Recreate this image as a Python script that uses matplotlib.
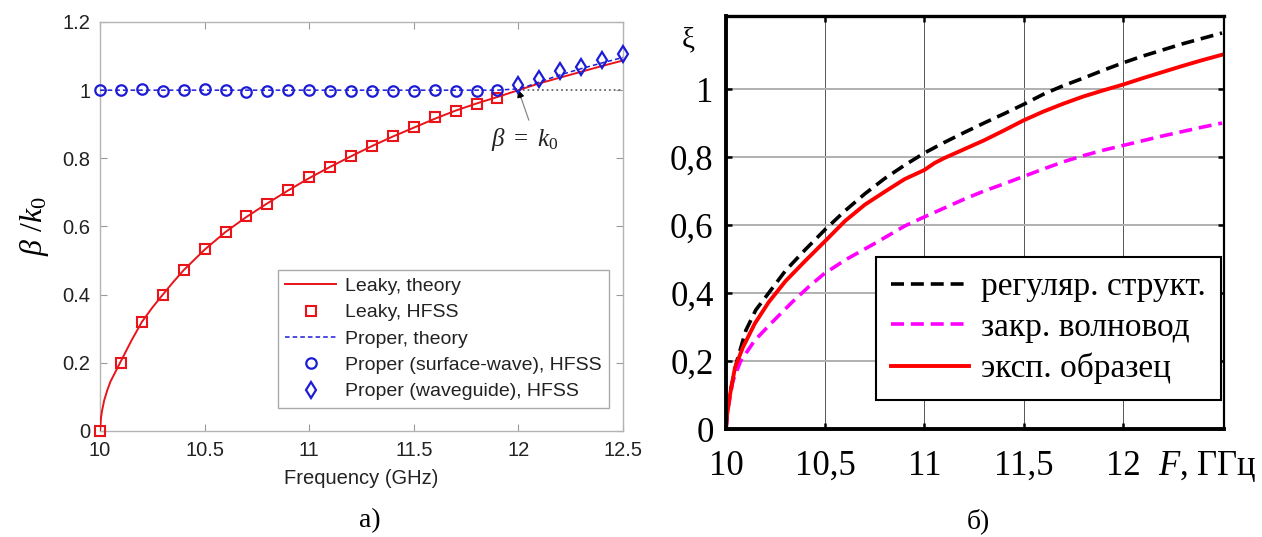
import matplotlib
matplotlib.use("Agg")
import matplotlib.pyplot as plt

plt.rcParams['mathtext.fontset'] = 'custom'
plt.rcParams['mathtext.rm'] = 'Liberation Serif'
plt.rcParams['mathtext.it'] = 'Liberation Serif:italic'

# ---------------- panel (a): dispersion, theory vs HFSS ----------------
f_leaky_hfss = [10.0, 10.1, 10.2, 10.3, 10.4, 10.5, 10.6, 10.7, 10.8, 10.9,
                11.0, 11.1, 11.2, 11.3, 11.4, 11.5, 11.6, 11.7, 11.8, 11.9]
b_leaky_hfss = [0.0, 0.20, 0.32, 0.40, 0.472, 0.535, 0.585, 0.63, 0.667, 0.708,
                0.744, 0.776, 0.808, 0.837, 0.866, 0.891, 0.92, 0.938, 0.959, 0.976]

f_leaky_th = [10.0, 10.005, 10.01, 10.02, 10.035, 10.05, 10.075, 10.1, 10.15, 10.2,
              10.25, 10.3, 10.35, 10.4, 10.5, 10.6, 10.7, 10.8, 10.9, 11.0,
              11.1, 11.2, 11.3, 11.4, 11.5, 11.6, 11.7, 11.8, 11.9, 12.0,
              12.1, 12.2, 12.3, 12.4, 12.5]
b_leaky_th = [0.0, 0.04, 0.06, 0.09, 0.12, 0.145, 0.175, 0.205, 0.265, 0.32,
              0.362, 0.40, 0.437, 0.472, 0.532, 0.584, 0.628, 0.668, 0.706, 0.742,
              0.775, 0.806, 0.836, 0.864, 0.89, 0.916, 0.94, 0.961, 0.98, 1.0,
              1.02, 1.037, 1.054, 1.071, 1.087]

f_proper_th = [10.0, 11.9, 12.0, 12.05, 12.1, 12.2, 12.3, 12.4, 12.5]
b_proper_th = [1.0, 1.0, 1.004, 1.013, 1.024, 1.045, 1.063, 1.08, 1.096]

f_surface = f_leaky_hfss
b_surface = [1.0, 1.0, 1.003, 0.997, 1.0, 1.003, 1.0, 0.995, 0.998, 1.0,
             1.0, 0.998, 0.998, 0.999, 0.998, 0.999, 1.0, 0.999, 0.999, 1.0]

f_waveguide = [12.0, 12.1, 12.2, 12.3, 12.4, 12.5]
b_waveguide = [1.016, 1.034, 1.057, 1.069, 1.089, 1.105]

f_light = [12.0, 12.5]
b_light = [1.0, 1.0]

xticks_a = [10, 10.5, 11, 11.5, 12, 12.5]
xlabels_a = ['10', '10.5', '11', '11.5', '12', '12.5']
yticks_a = [0, 0.2, 0.4, 0.6, 0.8, 1.0, 1.2]
ylabels_a = ['0', '0.2', '0.4', '0.6', '0.8', '1', '1.2']

# ---------------- panel (б): measured / computed curves ----------------
f_reg = [10.0, 10.01, 10.025, 10.055, 10.1, 10.15, 10.215, 10.3, 10.4, 10.5,
         10.6, 10.7, 10.8, 10.9, 11.0, 11.1, 11.2, 11.3, 11.4, 11.5,
         11.6, 11.7, 11.8, 11.9, 12.0, 12.1, 12.2, 12.3, 12.4, 12.5]
xi_reg = [0.0, 0.08, 0.12, 0.20, 0.29, 0.35, 0.40, 0.466, 0.528, 0.587,
          0.642, 0.692, 0.737, 0.776, 0.812, 0.843, 0.872, 0.9, 0.927, 0.955,
          0.985, 1.01, 1.032, 1.055, 1.077, 1.097, 1.115, 1.133, 1.149, 1.165]

f_closed = [10.0, 10.008, 10.034, 10.074, 10.144, 10.224, 10.333, 10.42, 10.493, 10.6,
            10.75, 10.9, 11.0, 11.1, 11.2, 11.3, 11.4, 11.5, 11.6, 11.7,
            11.8, 11.9, 12.0, 12.1, 12.2, 12.3, 12.4, 12.5]
xi_closed = [0.0, 0.053, 0.14, 0.20, 0.26, 0.309, 0.373, 0.42, 0.456, 0.497,
             0.546, 0.597, 0.624, 0.65, 0.676, 0.70, 0.721, 0.743, 0.765, 0.786,
             0.804, 0.82, 0.834, 0.848, 0.862, 0.875, 0.888, 0.90]

f_exp = [10.0, 10.005, 10.01, 10.02, 10.045, 10.085, 10.145, 10.215, 10.3, 10.335,
         10.4, 10.5, 10.6, 10.7, 10.8, 10.9, 11.0, 11.05, 11.1, 11.2,
         11.3, 11.4, 11.5, 11.6, 11.7, 11.8, 11.9, 12.0, 12.1, 12.2,
         12.3, 12.4, 12.5]
xi_exp = [0.0, 0.04, 0.06, 0.10, 0.18, 0.24, 0.31, 0.373, 0.435, 0.456,
          0.495, 0.553, 0.612, 0.66, 0.698, 0.735, 0.762, 0.782, 0.797, 0.823,
          0.849, 0.878, 0.908, 0.934, 0.957, 0.978, 0.996, 1.013, 1.032, 1.05,
          1.068, 1.085, 1.101]

xticks_b = [10, 10.5, 11, 11.5, 12]
xlabels_b = ['10', '10,5', '11', '11,5', '12']
yticks_b = [0, 0.2, 0.4, 0.6, 0.8, 1.0]
ylabels_b = ['0', '0,2', '0,4', '0,6', '0,8', '1']

names_b = ['регуляр. структ.', 'закр. волновод', 'эксп. образец']

W, H = 1262, 537
fig = plt.figure(figsize=(W / 100, H / 100), dpi=100)


def px_axes(x0, y0, x1, y1):
    return fig.add_axes([x0 / W, 1 - y1 / H, (x1 - x0) / W, (y1 - y0) / H])


# ---- left axes ----
ax = px_axes(100, 22, 623, 431)
sans = 'Liberation Sans'
red = '#e8141a'
blue = '#1c1cd6'

ax.plot(f_leaky_th, b_leaky_th, '-', color=red, lw=1.4, label='Leaky, theory', zorder=3)
ax.plot(f_leaky_hfss, b_leaky_hfss, 's', mfc='none', mec=red, mew=1.5, ms=7,
        label='Leaky, HFSS', zorder=4, clip_on=False)
ax.plot(f_proper_th, b_proper_th, '--', color=blue, lw=1.1, dashes=(3, 2),
        label='Proper, theory', zorder=3)
ax.plot(f_surface, b_surface, 'o', mfc='none', mec=blue, mew=1.6, ms=7.5,
        label='Proper (surface-wave), HFSS', zorder=4, clip_on=False)
ax.plot(f_waveguide, b_waveguide, 'd', mfc='none', mec=blue, mew=1.6, ms=8.5,
        label='Proper (waveguide), HFSS', zorder=4, clip_on=False)
ax.plot(f_light, b_light, ':', color='#666666', lw=1.3, zorder=2)

ax.set_xlim(10, 12.5)
ax.set_ylim(0, 1.2)
ax.set_xticks(xticks_a)
ax.set_xticklabels(xlabels_a, family=sans, fontsize=14.5, color='#222222')
ax.set_yticks(yticks_a)
ax.set_yticklabels(ylabels_a, family=sans, fontsize=14.5, color='#222222')
ax.tick_params(direction='in', length=5, width=0.8, color='#9a9a9a',
               top=True, right=True, pad=7)
for s in ax.spines.values():
    s.set_color('#b4b4b4')
    s.set_linewidth(1.0)

ax.set_xlabel('Frequency (GHz)', family=sans, fontsize=14.5, color='#222222', labelpad=7)
ax.set_ylabel(r'$\mathit{\beta}\ /\mathit{k}_0$', fontsize=23, labelpad=8)

ax.annotate('', xy=(12.0, 1.0), xytext=(12.05, 0.912),
            arrowprops=dict(arrowstyle='-|>', color='#888888', lw=0.9,
                            mutation_scale=10, shrinkA=0, shrinkB=0))
ax.annotate('', xy=(12.0, 1.0), xytext=(12.012, 0.978),
            arrowprops=dict(arrowstyle='-|>', color='black', lw=0.9,
                            mutation_scale=10, shrinkA=0, shrinkB=0))
ax.text(12.03, 0.855, r'$\mathit{\beta}\ =\ \mathit{k}_0$', fontsize=18,
        ha='center', va='center', color='#222222')

leg = ax.legend(loc='upper left', bbox_to_anchor=(278 / W, 1 - 270 / H),
                bbox_transform=fig.transFigure, borderaxespad=0,
                prop={'family': sans, 'size': 14}, fancybox=False,
                edgecolor='#aaaaaa', framealpha=1, handlelength=2.6,
                handletextpad=0.45, labelspacing=0.45, borderpad=0.38)
leg.get_frame().set_linewidth(1.0)
for t in leg.get_texts():
    t.set_color('#222222')

fig.text(370 / W, 1 - 521 / H, 'а)', family='Liberation Serif', fontsize=20,
         ha='center', va='center')

# ---- right axes ----
bx = px_axes(726, 16, 1224, 429)
serif = 'Liberation Serif'
bx.plot(f_reg, xi_reg, '--', color='black', lw=2.6, dashes=(3.6, 1.9), label=names_b[0])
bx.plot(f_closed, xi_closed, '--', color='#ff00ff', lw=2.6, dashes=(3.6, 1.9), label=names_b[1])
bx.plot(f_exp, xi_exp, '-', color='#ff0000', lw=2.8, label=names_b[2])

bx.set_xlim(10, 12.51)
bx.set_ylim(0, 1.215)
bx.set_xticks(xticks_b)
bx.set_xticklabels(xlabels_b, family=serif, fontsize=25)
bx.set_yticks(yticks_b)
bx.set_yticklabels(ylabels_b, family=serif, fontsize=25)
bx.tick_params(direction='in', length=4, width=1.8, color='black',
               top=True, right=True)
bx.tick_params(axis='x', pad=15)
bx.tick_params(axis='y', pad=9)
bx.yaxis.grid(True, color='#b0b0b0', lw=1.4)
bx.xaxis.grid(True, color='#555555', lw=0.7)
bx.set_axisbelow(True)
for side, lw in (('left', 2.8), ('bottom', 2.8), ('top', 2.4), ('right', 1.6)):
    bx.spines[side].set_linewidth(lw)
    bx.spines[side].set_color('black')

bx.text(-0.075, 0.94, 'ξ', transform=bx.transAxes, family=serif, fontsize=21,
        ha='center', va='center')
bx.text(1.065, -0.09, r'$F$, ГГц', transform=bx.transAxes, family=serif,
        fontsize=25, ha='right', va='center')

leg2 = bx.legend(loc='upper left', bbox_to_anchor=(876 / W, 1 - 257 / H),
                 bbox_transform=fig.transFigure, borderaxespad=0,
                 prop={'family': serif, 'size': 24}, fancybox=False,
                 edgecolor='black', framealpha=1, handlelength=2.35,
                 handletextpad=0.35, labelspacing=0.3, borderpad=0.45)
leg2.get_frame().set_linewidth(1.5)

fig.text(978 / W, 1 - 521 / H, 'б)', family=serif, fontsize=20,
         ha='center', va='center')

fig.savefig('out.png', dpi=100)
